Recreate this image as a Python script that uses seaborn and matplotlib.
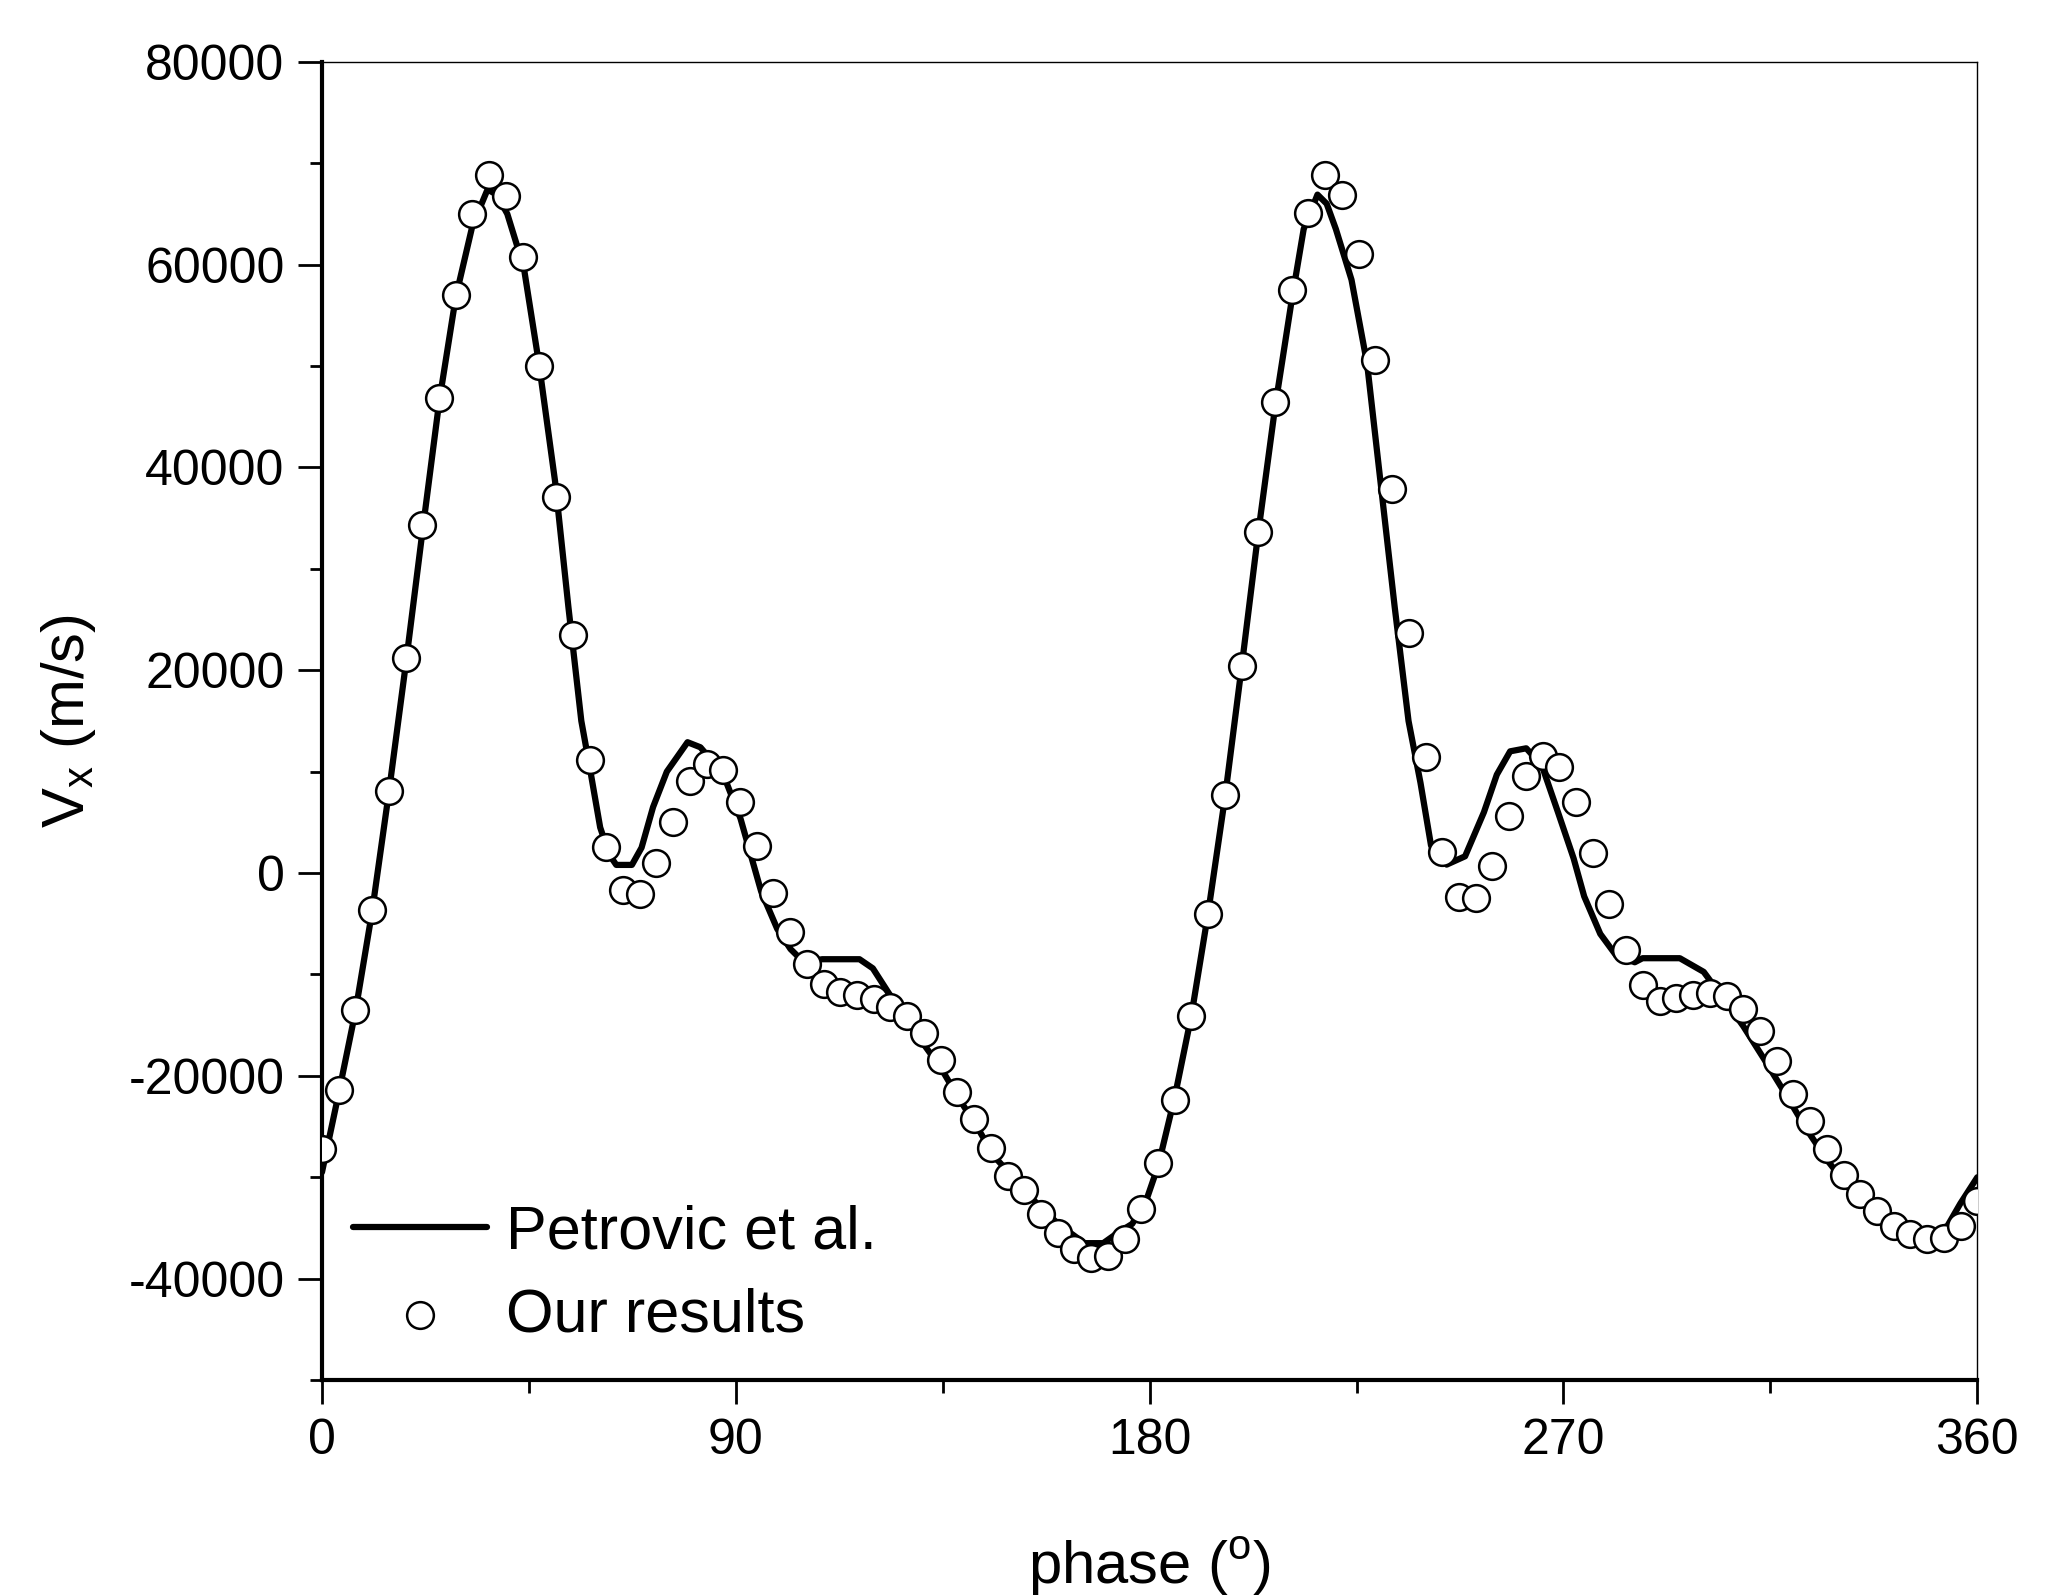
import numpy as np
import matplotlib
matplotlib.use("Agg")
import matplotlib.pyplot as plt
from matplotlib.ticker import MultipleLocator
import seaborn as sns

sns.set_theme(style="ticks")
plt.rcParams['font.family'] = ['Liberation Sans', 'DejaVu Sans']
plt.rcParams['axes.unicode_minus'] = False
plt.rcParams['mathtext.fontset'] = 'custom'
plt.rcParams['mathtext.rm'] = 'Liberation Sans'
plt.rcParams['text.color'] = 'black'
plt.rcParams['axes.labelcolor'] = 'black'

# Petrovic et al. reference curve
petrovic_phase = [0.0, 3.6, 7.3, 10.9, 14.5, 18.2, 21.8, 25.5, 29.1, 32.7, 36.0, 38.0,
                  40.3, 43.9, 47.2, 50.7, 53.6, 56.4, 58.2, 60.5, 62.5, 64.0, 67.4, 69.5,
                  72.0, 75.0, 79.5, 82.3, 87.2, 91.0, 95.5, 99.0, 101.9, 104.8, 108.8, 116.9,
                  119.8, 123.2, 130.1, 134.7, 138.2, 142.8, 146.3, 150.9, 155.5, 160.1, 165.8,
                  169.9, 173.0, 176.2, 179.1, 181.9, 185.5, 189.1, 192.7, 196.4, 200.0, 203.6,
                  207.3, 210.9, 213.5, 216.5, 218.5, 220.5, 223.9, 227.3, 230.2, 233.3, 236.3,
                  238.9, 241.2, 244.6, 248.6, 252.7, 255.5, 258.4, 261.9, 265.3, 268.8, 272.2,
                  274.5, 278.0, 281.4, 285.5, 287.2, 295.3, 300.5, 304.5, 309.1, 313.7, 318.3,
                  322.9, 327.5, 332.0, 336.5, 341.0, 345.5, 350.0, 353.5, 356.3, 360.0]
petrovic_vx = [-29500, -21800, -13600, -3800, 7800, 20500, 33500, 46500, 56800, 63800, 67400, 66900,
               65000, 59700, 50200, 38600, 26200, 15000, 10500, 4500, 1800, 800, 800, 2500,
               6500, 10000, 12900, 12400, 9800, 5400, -1800, -5500, -7500, -8800, -8500, -8500,
               -9400, -11800, -16400, -19300, -22000, -25300, -28000, -30300, -32600, -34600, -36500,
               -36500, -35500, -34600, -32500, -28800, -22000, -14000, -4000, 7500, 20300, 33500,
               46000, 56500, 63500, 66900, 66000, 63500, 58500, 50200, 38600, 26200, 15000,
               8900, 2700, 830, 1650, 6000, 9700, 12000, 12300, 10600, 6000, 1450,
               -2300, -6000, -8100, -8800, -8400, -8400, -9750, -12200, -15100, -18400, -21800,
               -25300, -28400, -31000, -33200, -34600, -35300, -35500, -34800, -32600, -30000]

# our results: 100 equally spaced phases over one revolution
our_phase = np.linspace(0, 360, 100)
our_vx = [-27200, -21400, -13500, -3600, 8100, 21200, 34300, 46800, 57000, 65000,
          68800, 66800, 60700, 50000, 37100, 23500, 11150, 2600, -1700, -2100,
          1000, 5000, 9100, 10800, 10150, 7000, 2700, -1950, -5800, -9000,
          -10900, -11700, -12050, -12450, -13200, -14100, -15750, -18400, -21550, -24250,
          -27150, -29850, -31300, -33600, -35450, -37100, -37950, -37750, -36100, -33150,
          -28600, -22400, -14100, -4000, 7650, 20450, 33600, 46400, 57450, 65100,
          68800, 66900, 61000, 50600, 37850, 23700, 11400, 2050, -2350, -2500,
          700, 5650, 9550, 11500, 10500, 7050, 1950, -3100, -7600, -11000,
          -12650, -12300, -12050, -11800, -12150, -13400, -15550, -18550, -21750, -24450,
          -27250, -29750, -31650, -33300, -34850, -35550, -36100, -35950, -34850, -32350]

fig = plt.figure(figsize=(20.64, 15.96), dpi=100, facecolor='white')
ax = fig.add_axes([0.156, 0.1353, 0.802, 0.826])

sns.lineplot(x=petrovic_phase, y=petrovic_vx, ax=ax, color='black', linewidth=4.5,
             estimator=None, label='Petrovic et al.', zorder=2)
sns.scatterplot(x=our_phase, y=our_vx, ax=ax, s=370, color='white', edgecolor='black',
                linewidth=1.8, marker='o', label='Our results', zorder=3)

ax.set_xlim(0, 360)
ax.set_ylim(-50000, 80000)
ax.xaxis.set_major_locator(MultipleLocator(90))
ax.xaxis.set_minor_locator(MultipleLocator(45))
ax.yaxis.set_major_locator(MultipleLocator(20000))
ax.yaxis.set_minor_locator(MultipleLocator(10000))

for side in ['left', 'bottom']:
    ax.spines[side].set_linewidth(3)
for side in ['top', 'right']:
    ax.spines[side].set_linewidth(1)
for sp in ax.spines.values():
    sp.set_color('black')

ax.tick_params(which='major', direction='out', length=17, width=2, labelsize=36,
               pad=10, colors='black')
ax.tick_params(which='minor', direction='out', length=9, width=2, colors='black')
ax.tick_params(top=False, right=False, which='both')

ax.set_xlabel('phase ($^\\mathregular{o}$)', fontsize=43, labelpad=52)
ax.set_ylabel('V$_\\mathregular{x}$ (m/s)', fontsize=43, labelpad=22)

ax.legend(loc='lower left', bbox_to_anchor=(0.0187, 0.027), frameon=False, fontsize=44,
          handlelength=2.2, handletextpad=0.3, labelspacing=0.42, borderpad=0,
          borderaxespad=0)

fig.savefig('out.png', dpi=100, facecolor='white')
